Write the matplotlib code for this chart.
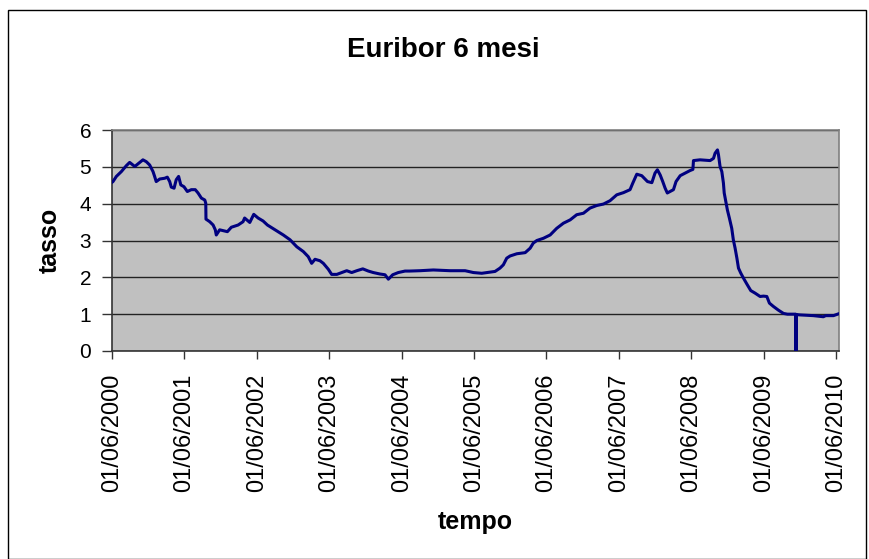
import matplotlib
matplotlib.use("Agg")
import matplotlib.pyplot as plt
import matplotlib.dates as mdates
from matplotlib.patches import Rectangle
import numpy as np

plt.rcParams['font.family'] = ['Liberation Sans', 'DejaVu Sans']

title = "Euribor 6 mesi"
xlabel = "tempo"
ylabel = "tasso"

dates = [
    "2000-06-01", "2000-06-06", "2000-06-23", "2000-07-18", "2000-08-12", "2000-08-29",
    "2000-09-24", "2000-10-19", "2000-11-04", "2000-11-21", "2000-12-08", "2000-12-25",
    "2001-01-02", "2001-01-10", "2001-01-28", "2001-02-22", "2001-03-07", "2001-03-19",
    "2001-03-27", "2001-04-10", "2001-04-21", "2001-05-03", "2001-05-14", "2001-05-30",
    "2001-06-16", "2001-07-06", "2001-07-26", "2001-08-09", "2001-08-26", "2001-09-12",
    "2001-09-17", "2001-09-18", "2001-10-07", "2001-10-24", "2001-11-04", "2001-11-09",
    "2001-11-26", "2002-01-04", "2002-01-24", "2002-02-27", "2002-03-24", "2002-04-01",
    "2002-04-27", "2002-05-17", "2002-06-08", "2002-07-03", "2002-07-25", "2002-09-10",
    "2002-10-13", "2002-11-16", "2002-12-20", "2003-01-22", "2003-02-16", "2003-03-05",
    "2003-03-22", "2003-04-16", "2003-05-03", "2003-05-28", "2003-06-14", "2003-07-10",
    "2003-08-04", "2003-08-29", "2003-09-23", "2003-10-19", "2003-11-18", "2003-12-16",
    "2004-01-10", "2004-02-13", "2004-03-09", "2004-03-26", "2004-04-17", "2004-05-15",
    "2004-06-18", "2004-07-10", "2004-09-02", "2004-11-08", "2005-01-31", "2005-04-17",
    "2005-05-29", "2005-07-10", "2005-09-15", "2005-10-10", "2005-10-27", "2005-11-13",
    "2005-11-30", "2006-01-03", "2006-02-14", "2006-03-11", "2006-03-27", "2006-04-14",
    "2006-05-17", "2006-06-20", "2006-07-23", "2006-08-26", "2006-09-29", "2006-11-01",
    "2006-12-05", "2007-01-07", "2007-02-10", "2007-03-16", "2007-04-18", "2007-05-22",
    "2007-06-25", "2007-07-28", "2007-08-11", "2007-08-31", "2007-09-25", "2007-10-24",
    "2007-11-15", "2007-12-01", "2007-12-13", "2007-12-27", "2008-01-09", "2008-01-21",
    "2008-02-01", "2008-02-15", "2008-03-03", "2008-03-16", "2008-04-06", "2008-05-01",
    "2008-05-26", "2008-06-09", "2008-06-12", "2008-07-15", "2008-09-04", "2008-09-21",
    "2008-09-29", "2008-10-11", "2008-10-16", "2008-10-24", "2008-11-02", "2008-11-10",
    "2008-11-14", "2008-11-24", "2008-11-30", "2008-12-10", "2008-12-22", "2008-12-30",
    "2009-01-08", "2009-01-17", "2009-01-25", "2009-02-06", "2009-02-19", "2009-03-08",
    "2009-03-28", "2009-04-19", "2009-05-14", "2009-05-31", "2009-06-17", "2009-06-30",
    "2009-07-20", "2009-08-14", "2009-09-09", "2009-09-29", "2009-11-10", "2009-11-11",
    "2009-11-12", "2009-12-01", "2010-02-07", "2010-03-29", "2010-04-10", "2010-05-19",
    "2010-06-14",
]
tasso = [
    4.58, 4.60, 4.74, 4.87, 5.03, 5.12,
    5.01, 5.12, 5.19, 5.14, 5.05, 4.87,
    4.74, 4.60, 4.67, 4.69, 4.72, 4.60,
    4.45, 4.42, 4.65, 4.74, 4.51, 4.46,
    4.33, 4.38, 4.38, 4.29, 4.15, 4.10,
    4.01, 3.58, 3.51, 3.42, 3.29, 3.15,
    3.29, 3.24, 3.36, 3.42, 3.51, 3.61,
    3.49, 3.71, 3.61, 3.53, 3.42, 3.26,
    3.15, 3.02, 2.83, 2.70, 2.56, 2.38,
    2.49, 2.45, 2.38, 2.22, 2.08, 2.08,
    2.13, 2.18, 2.13, 2.18, 2.23, 2.17,
    2.13, 2.09, 2.07, 1.95, 2.07, 2.13,
    2.17, 2.17, 2.18, 2.20, 2.18, 2.18,
    2.13, 2.11, 2.16, 2.25, 2.34, 2.52,
    2.58, 2.64, 2.67, 2.79, 2.93, 3.00,
    3.06, 3.15, 3.33, 3.47, 3.56, 3.70,
    3.74, 3.88, 3.95, 3.99, 4.08, 4.24,
    4.30, 4.38, 4.56, 4.80, 4.76, 4.60,
    4.57, 4.83, 4.92, 4.78, 4.60, 4.42,
    4.29, 4.33, 4.38, 4.60, 4.76, 4.83,
    4.90, 4.93, 5.17, 5.19, 5.17, 5.23,
    5.37, 5.46, 5.33, 5.01, 4.87, 4.56,
    4.29, 4.01, 3.83, 3.61, 3.33, 3.02,
    2.79, 2.52, 2.25, 2.11, 1.98, 1.82,
    1.64, 1.57, 1.48, 1.49, 1.48, 1.30,
    1.21, 1.11, 1.02, 1.00, 1.00, 0.00,
    0.99, 0.98, 0.96, 0.93, 0.96, 0.96,
    1.01,
]

x = np.array(dates, dtype="datetime64[D]")
y = np.array(tasso)

W, H = 869, 559
fig = plt.figure(figsize=(W / 100, H / 100), dpi=100)
fig.patch.set_facecolor("white")

# outer chart border
fig.patches.append(Rectangle((8 / W, 0.0), (866 - 8) / W, (H - 10) / H,
                             transform=fig.transFigure, fill=False,
                             edgecolor="black", linewidth=1.0))

L, R, T, B = 112, 839, 130, 351
ax = fig.add_axes([L / W, 1 - B / H, (R - L) / W, (B - T) / H])
ax.set_facecolor("#C0C0C0")

ax.plot(x, y, color="#000080", linewidth=2.2, zorder=3)

ax.set_ylim(0, 6)
ax.set_yticks([0, 1, 2, 3, 4, 5, 6])
ax.set_xlim(np.datetime64("2000-06-01"), np.datetime64("2010-06-16"))
ax.xaxis.set_major_locator(mdates.YearLocator(base=1, month=6, day=1))
ax.xaxis.set_major_formatter(mdates.DateFormatter("%d/%m/%Y"))

ax.yaxis.grid(True, color="#222222", linewidth=1.0)
ax.set_axisbelow(True)

for s in ["top", "right"]:
    ax.spines[s].set_color("#808080")
    ax.spines[s].set_linewidth(1.2)
for s in ["left", "bottom"]:
    ax.spines[s].set_color("#333333")
    ax.spines[s].set_linewidth(1.2)

ax.tick_params(axis="y", direction="out", length=7, width=1, color="#333333",
               labelsize=15, pad=8)
ax.tick_params(axis="x", direction="out", length=6, width=1, color="#333333",
               labelsize=17, pad=10, labelrotation=90)

fig.text(443 / W, 1 - 50 / H, title, ha="center", va="center",
         fontsize=20, fontweight="bold")
fig.text(50 / W, 1 - 240 / H, ylabel, ha="center", va="center",
         rotation=90, fontsize=18, fontweight="bold")
fig.text(475 / W, 1 - 522 / H, xlabel, ha="center", va="center",
         fontsize=18, fontweight="bold")

fig.savefig("out.png", dpi=100)
